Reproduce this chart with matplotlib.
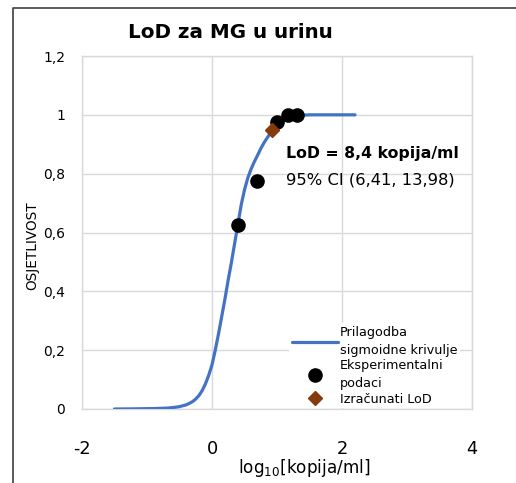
import matplotlib
matplotlib.use("Agg")
import matplotlib.pyplot as plt
from matplotlib.lines import Line2D

plt.rcParams['font.family'] = ['DejaVu Sans']

# Fitted sigmoid curve, x = log10(kopija/ml)
curve_x = [-1.5, -1.2, -0.9, -0.7, -0.6, -0.5, -0.45, -0.4, -0.35, -0.3, -0.25, -0.2, -0.15, -0.1,
           -0.05, 0.0, 0.05, 0.1, 0.15, 0.2, 0.25, 0.3, 0.35, 0.4, 0.45, 0.5, 0.55, 0.6, 0.65,
           0.7, 0.75, 0.8, 0.85, 0.9, 0.95, 1.0, 1.1, 1.2, 1.3, 1.4, 1.5, 1.8, 2.2]
curve_y = [0.0, 0.0005, 0.0015, 0.003, 0.005, 0.008, 0.011, 0.014, 0.019, 0.025, 0.034, 0.046, 0.063, 0.086,
           0.115, 0.15, 0.2, 0.255, 0.315, 0.375, 0.44, 0.50, 0.565, 0.63, 0.695, 0.745, 0.785, 0.815, 0.84,
           0.862, 0.885, 0.905, 0.922, 0.938, 0.953, 0.965, 0.98, 0.99, 0.996, 0.999, 1.0, 1.0, 1.0]

# Experimental data
exp_x = [0.398, 0.699, 1.0, 1.176, 1.301]
exp_y = [0.625, 0.775, 0.975, 1.0, 1.0]

# Calculated LoD
lod_x = [0.924]
lod_y = [0.95]

xticks = [-2, 0, 2, 4]
yticks = [0, 0.2, 0.4, 0.6, 0.8, 1.0, 1.2]
ytick_labels = ['0', '0,2', '0,4', '0,6', '0,8', '1', '1,2']

W, H = 516, 483
fig = plt.figure(figsize=(W / 100, H / 100), dpi=100)
ax = fig.add_axes([82 / W, 1 - 409 / H, 390 / W, 353 / H])

ax.set_xlim(-2, 4)
ax.set_ylim(0, 1.2)
ax.set_xticks(xticks)
ax.set_xticklabels([str(t) for t in xticks])
ax.set_yticks(yticks)
ax.set_yticklabels(ytick_labels)
ax.tick_params(axis='both', length=0)
ax.tick_params(axis='x', labelsize=12.8, pad=22)
ax.tick_params(axis='y', labelsize=10, pad=12)
ax.grid(True, color='#d9d9d9', linewidth=1.0)
ax.set_axisbelow(True)
for s in ax.spines.values():
    s.set_color('#d9d9d9')
    s.set_linewidth(1.0)

ax.plot(curve_x, curve_y, color='#4472C4', linewidth=2.3, solid_capstyle='round',
        label='Prilagodba\nsigmoidne krivulje', zorder=3)
ax.plot(exp_x, exp_y, linestyle='none', marker='o', markersize=9.5, color='black',
        label='Eksperimentalni\npodaci', zorder=4)
ax.plot(lod_x, lod_y, linestyle='none', marker='D', markersize=7, color='#843C0C',
        label='Izračunati LoD', zorder=5)

ax.text(1.14, 0.87, 'LoD = 8,4 kopija/ml', fontsize=11.3, fontweight='bold',
        ha='left', va='center', zorder=6)
ax.text(1.14, 0.778, '95% CI (6,41, 13,98)', fontsize=11.8,
        ha='left', va='center', zorder=6)

leg = ax.legend(loc='upper left', bbox_to_anchor=((289 - 82) / 390, (409 - 323) / 353),
                frameon=True, fontsize=9.2, handlelength=3.6, handletextpad=0.2,
                labelspacing=0.2, borderpad=0.2, borderaxespad=0)
for t in leg.get_texts():
    t.set_linespacing(1.5)
leg.get_frame().set_facecolor('white')
leg.get_frame().set_edgecolor('none')
leg.get_frame().set_alpha(1)
leg.get_frame().set_boxstyle('square', pad=0)

fig.text(230 / W, 1 - 32 / H, 'LoD za MG u urinu', fontsize=14.3, fontweight='bold',
         ha='center', va='center')
fig.text(32 / W, 1 - 246 / H, 'OSJETLIVOST', fontsize=9.8, rotation=90,
         ha='center', va='center')
fig.text(304 / W, 1 - 468 / H, r'log$_{\mathregular{10}}$[kopija/ml]', fontsize=12.2,
         ha='center', va='center')

# Outer border (left and top visible)
fig.add_artist(Line2D([13 / W, 13 / W, 1.0], [0.0, 1 - 8 / H, 1 - 8 / H],
                      transform=fig.transFigure, color='#404040', linewidth=1.2))

fig.savefig('out.png', dpi=100)
